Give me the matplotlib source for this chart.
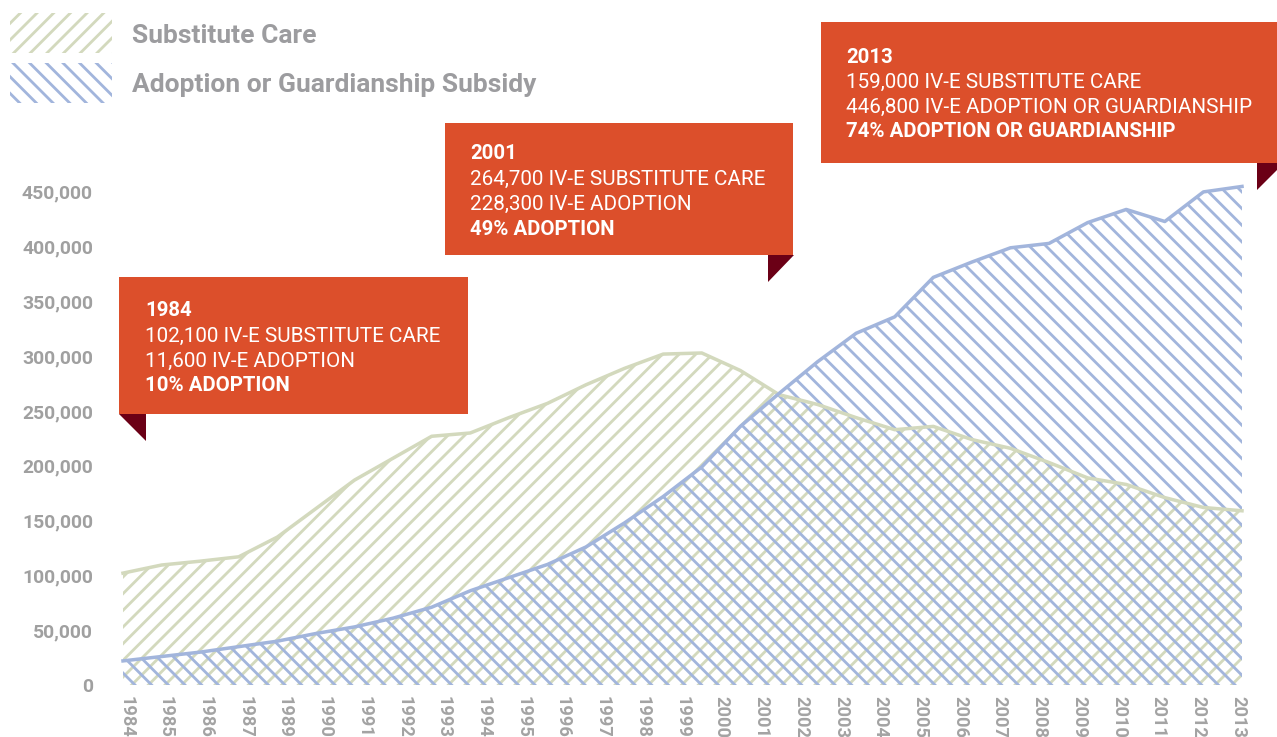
import numpy as np
import matplotlib.pyplot as plt
from matplotlib.patches import Rectangle, Polygon

W, H, DPI = 1277, 737, 100


def pt(px):
    return px * 72 / DPI


plt.rcParams['font.family'] = ['Roboto', 'DejaVu Sans']
plt.rcParams['hatch.linewidth'] = pt(2.8)

# дані (роки 1984-2013)
years = list(range(1984, 2014))
substitute_care = [102100, 109500, 113000, 117000, 135000, 161000, 187000, 207000, 227000, 230000,
                   244000, 257000, 274000, 289000, 302000, 303000, 287000, 265000, 256000, 244000,
                   233000, 236000, 224000, 216000, 203000, 189000, 183000, 171000, 162000, 159000]
adoption = [22000, 26000, 30000, 35000, 40000, 47000, 53000, 61000, 71000, 86000,
            98000, 110000, 126000, 148000, 172000, 199000, 236000, 266000, 295000, 321000,
            336000, 372000, 386000, 399000, 403000, 422000, 434000, 423000, 450000, 455000]
# підписи осі x (1988 у оригіналі відсутній)
tick_years = [1984, 1985, 1986, 1987] + list(range(1989, 2014))
y_ticks = list(range(0, 450001, 50000))

series_names = ['Substitute Care', 'Adoption or Guardianship Subsidy']
callouts = [
    ('1984', '102,100 IV-E SUBSTITUTE CARE', '11,600 IV-E ADOPTION', '10% ADOPTION'),
    ('2001', '264,700 IV-E SUBSTITUTE CARE', '228,300 IV-E ADOPTION', '49% ADOPTION'),
    ('2013', '159,000 IV-E SUBSTITUTE CARE', '446,800 IV-E ADOPTION OR GUARDIANSHIP',
     '74% ADOPTION OR GUARDIANSHIP'),
]

GREEN = '#d3d9bd'
BLUE = '#a2b5dc'
RED = '#dc4f2b'
DARK = '#6b0016'
GRAY = '#9c9c9f'


def fxy(x, y):
    # піксельні координати (від верхнього лівого кута) -> частки фігури
    return x / W, 1 - y / H


fig = plt.figure(figsize=(W / DPI, H / DPI), dpi=DPI)
left, right = 123 / W, 1242 / W
bottom, top = 52 / H, (H - 170) / H
ax = fig.add_axes([left, bottom, right - left, top - bottom])

x = np.arange(len(years))
ax.fill_between(x, 0, substitute_care, facecolor='none', edgecolor=GREEN, hatch='//', linewidth=0)
ax.fill_between(x, 0, adoption, facecolor='none', edgecolor=BLUE, hatch='\\\\', linewidth=0)
ax.plot(x, substitute_care, color=GREEN, lw=pt(3.5), clip_on=False, solid_joinstyle='round')
ax.plot(x, adoption, color=BLUE, lw=pt(3.5), clip_on=False, solid_joinstyle='round')

ax.set_xlim(0, len(years) - 1)
ax.set_ylim(0, 470000)
for s in ax.spines.values():
    s.set_visible(False)

ax.set_yticks(y_ticks)
ax.set_yticklabels([f'{v:,}' for v in y_ticks], fontsize=pt(19.4), fontweight='bold', color='#a0a0a0')
ax.set_xticks(np.linspace(0.08, 28.9, len(tick_years)))
ax.set_xticklabels([str(t) for t in tick_years], rotation=-90, fontsize=pt(18.3),
                   fontweight='bold', color='#a3a3a3', va='top', ha='center')
ax.tick_params(axis='y', length=0, pad=pt(30))
ax.tick_params(axis='x', length=0, pad=pt(11))

# легенда
for (name, color, hatch, y0, base) in [(series_names[0], GREEN, '//', 13, 43),
                                       (series_names[1], BLUE, '\\\\', 63, 92)]:
    fx, fy = fxy(10, y0 + 40)
    fig.patches.append(Rectangle((fx, fy), 102 / W, 40 / H, transform=fig.transFigure,
                                 facecolor='none', edgecolor=color, hatch=hatch, linewidth=0))
    tx, ty = fxy(132, base)
    fig.text(tx, ty, name, fontsize=pt(26.4), fontweight='bold', color=GRAY,
             va='baseline', ha='left')

# виноски
boxes = [
    dict(rect=(119, 277, 468, 414), fold=[(119, 414), (146, 414), (146, 441)], tx=145,
         bases=[316, 342, 367, 391]),
    dict(rect=(445, 123, 793, 255), fold=[(768, 255), (794, 255), (768, 282)], tx=470,
         bases=[159, 185, 210, 235]),
    dict(rect=(821, 22, 1290, 163), fold=[(1257, 163), (1284, 163), (1257, 190)], tx=846,
         bases=[63, 88, 113, 137]),
]
for box, lines in zip(boxes, callouts):
    x0, y0, x1, y1 = box['rect']
    fx, fy = fxy(x0, y1)
    fig.patches.append(Rectangle((fx, fy), (x1 - x0) / W, (y1 - y0) / H,
                                 transform=fig.transFigure, facecolor=RED, edgecolor='none', zorder=5))
    fig.patches.append(Polygon([fxy(*p) for p in box['fold']], closed=True,
                               transform=fig.transFigure, facecolor=DARK, edgecolor='none', zorder=5))
    for i, (line, base) in enumerate(zip(lines, box['bases'])):
        bold = i in (0, 3)
        tx, ty = fxy(box['tx'], base)
        fig.text(tx, ty, line, fontsize=pt(20.4) if bold else pt(20.7),
                 fontweight='bold' if bold else 'normal', color='white',
                 va='baseline', ha='left', zorder=6)

fig.savefig('out.png', dpi=DPI)
